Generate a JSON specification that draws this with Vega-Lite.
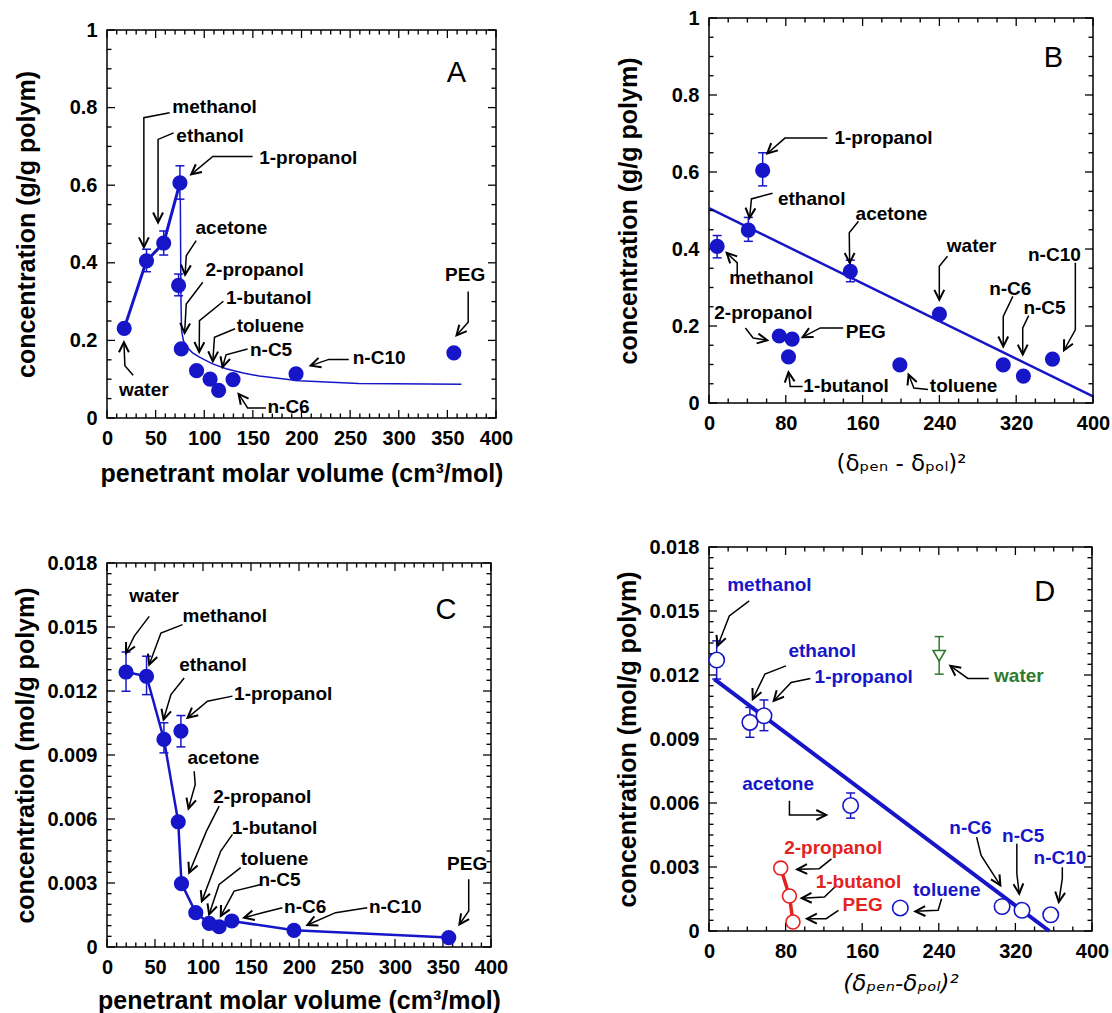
{
  "background": "white",
  "padding": {"left": 13, "top": 7, "right": 2, "bottom": 2},
  "config": {
    "view": {"stroke": "black", "strokeWidth": 1.5},
    "font": "Liberation Sans",
    "axis": {"grid": false, "domain": false, "ticks": false, "labelColor": "black", "labelFont": "Liberation Sans", "labelFontSize": 20, "labelFontWeight": "bold", "titleFont": "Liberation Sans", "titleFontSize": 25, "titleFontWeight": "bold", "titleColor": "black", "labelPadding": 10, "labelFlush": false, "labelOverlap": false}
  },
  "datasets": {
    "tx10a": [
      {"v": 0, "kind": "major", "e0": 0, "e1": 1}, {"v": 10, "kind": "minor", "e0": 0, "e1": 1}, {"v": 20, "kind": "minor", "e0": 0, "e1": 1}, {"v": 30, "kind": "minor", "e0": 0, "e1": 1}, {"v": 40, "kind": "minor", "e0": 0, "e1": 1},
      {"v": 50, "kind": "major", "e0": 0, "e1": 1}, {"v": 60, "kind": "minor", "e0": 0, "e1": 1}, {"v": 70, "kind": "minor", "e0": 0, "e1": 1}, {"v": 80, "kind": "minor", "e0": 0, "e1": 1}, {"v": 90, "kind": "minor", "e0": 0, "e1": 1},
      {"v": 100, "kind": "major", "e0": 0, "e1": 1}, {"v": 110, "kind": "minor", "e0": 0, "e1": 1}, {"v": 120, "kind": "minor", "e0": 0, "e1": 1}, {"v": 130, "kind": "minor", "e0": 0, "e1": 1}, {"v": 140, "kind": "minor", "e0": 0, "e1": 1},
      {"v": 150, "kind": "major", "e0": 0, "e1": 1}, {"v": 160, "kind": "minor", "e0": 0, "e1": 1}, {"v": 170, "kind": "minor", "e0": 0, "e1": 1}, {"v": 180, "kind": "minor", "e0": 0, "e1": 1}, {"v": 190, "kind": "minor", "e0": 0, "e1": 1},
      {"v": 200, "kind": "major", "e0": 0, "e1": 1}, {"v": 210, "kind": "minor", "e0": 0, "e1": 1}, {"v": 220, "kind": "minor", "e0": 0, "e1": 1}, {"v": 230, "kind": "minor", "e0": 0, "e1": 1}, {"v": 240, "kind": "minor", "e0": 0, "e1": 1},
      {"v": 250, "kind": "major", "e0": 0, "e1": 1}, {"v": 260, "kind": "minor", "e0": 0, "e1": 1}, {"v": 270, "kind": "minor", "e0": 0, "e1": 1}, {"v": 280, "kind": "minor", "e0": 0, "e1": 1}, {"v": 290, "kind": "minor", "e0": 0, "e1": 1},
      {"v": 300, "kind": "major", "e0": 0, "e1": 1}, {"v": 310, "kind": "minor", "e0": 0, "e1": 1}, {"v": 320, "kind": "minor", "e0": 0, "e1": 1}, {"v": 330, "kind": "minor", "e0": 0, "e1": 1}, {"v": 340, "kind": "minor", "e0": 0, "e1": 1},
      {"v": 350, "kind": "major", "e0": 0, "e1": 1}, {"v": 360, "kind": "minor", "e0": 0, "e1": 1}, {"v": 370, "kind": "minor", "e0": 0, "e1": 1}, {"v": 380, "kind": "minor", "e0": 0, "e1": 1}, {"v": 390, "kind": "minor", "e0": 0, "e1": 1},
      {"v": 400, "kind": "major", "e0": 0, "e1": 1}
    ],
    "tx10c": [
      {"v": 0, "kind": "major", "e0": 0, "e1": 0.018}, {"v": 10, "kind": "minor", "e0": 0, "e1": 0.018}, {"v": 20, "kind": "minor", "e0": 0, "e1": 0.018}, {"v": 30, "kind": "minor", "e0": 0, "e1": 0.018}, {"v": 40, "kind": "minor", "e0": 0, "e1": 0.018},
      {"v": 50, "kind": "major", "e0": 0, "e1": 0.018}, {"v": 60, "kind": "minor", "e0": 0, "e1": 0.018}, {"v": 70, "kind": "minor", "e0": 0, "e1": 0.018}, {"v": 80, "kind": "minor", "e0": 0, "e1": 0.018}, {"v": 90, "kind": "minor", "e0": 0, "e1": 0.018},
      {"v": 100, "kind": "major", "e0": 0, "e1": 0.018}, {"v": 110, "kind": "minor", "e0": 0, "e1": 0.018}, {"v": 120, "kind": "minor", "e0": 0, "e1": 0.018}, {"v": 130, "kind": "minor", "e0": 0, "e1": 0.018}, {"v": 140, "kind": "minor", "e0": 0, "e1": 0.018},
      {"v": 150, "kind": "major", "e0": 0, "e1": 0.018}, {"v": 160, "kind": "minor", "e0": 0, "e1": 0.018}, {"v": 170, "kind": "minor", "e0": 0, "e1": 0.018}, {"v": 180, "kind": "minor", "e0": 0, "e1": 0.018}, {"v": 190, "kind": "minor", "e0": 0, "e1": 0.018},
      {"v": 200, "kind": "major", "e0": 0, "e1": 0.018}, {"v": 210, "kind": "minor", "e0": 0, "e1": 0.018}, {"v": 220, "kind": "minor", "e0": 0, "e1": 0.018}, {"v": 230, "kind": "minor", "e0": 0, "e1": 0.018}, {"v": 240, "kind": "minor", "e0": 0, "e1": 0.018},
      {"v": 250, "kind": "major", "e0": 0, "e1": 0.018}, {"v": 260, "kind": "minor", "e0": 0, "e1": 0.018}, {"v": 270, "kind": "minor", "e0": 0, "e1": 0.018}, {"v": 280, "kind": "minor", "e0": 0, "e1": 0.018}, {"v": 290, "kind": "minor", "e0": 0, "e1": 0.018},
      {"v": 300, "kind": "major", "e0": 0, "e1": 0.018}, {"v": 310, "kind": "minor", "e0": 0, "e1": 0.018}, {"v": 320, "kind": "minor", "e0": 0, "e1": 0.018}, {"v": 330, "kind": "minor", "e0": 0, "e1": 0.018}, {"v": 340, "kind": "minor", "e0": 0, "e1": 0.018},
      {"v": 350, "kind": "major", "e0": 0, "e1": 0.018}, {"v": 360, "kind": "minor", "e0": 0, "e1": 0.018}, {"v": 370, "kind": "minor", "e0": 0, "e1": 0.018}, {"v": 380, "kind": "minor", "e0": 0, "e1": 0.018}, {"v": 390, "kind": "minor", "e0": 0, "e1": 0.018},
      {"v": 400, "kind": "major", "e0": 0, "e1": 0.018}
    ],
    "tx20b": [
      {"v": 0, "kind": "major", "e0": 0, "e1": 1}, {"v": 20, "kind": "minor", "e0": 0, "e1": 1}, {"v": 40, "kind": "minor", "e0": 0, "e1": 1}, {"v": 60, "kind": "minor", "e0": 0, "e1": 1},
      {"v": 80, "kind": "major", "e0": 0, "e1": 1}, {"v": 100, "kind": "minor", "e0": 0, "e1": 1}, {"v": 120, "kind": "minor", "e0": 0, "e1": 1}, {"v": 140, "kind": "minor", "e0": 0, "e1": 1},
      {"v": 160, "kind": "major", "e0": 0, "e1": 1}, {"v": 180, "kind": "minor", "e0": 0, "e1": 1}, {"v": 200, "kind": "minor", "e0": 0, "e1": 1}, {"v": 220, "kind": "minor", "e0": 0, "e1": 1},
      {"v": 240, "kind": "major", "e0": 0, "e1": 1}, {"v": 260, "kind": "minor", "e0": 0, "e1": 1}, {"v": 280, "kind": "minor", "e0": 0, "e1": 1}, {"v": 300, "kind": "minor", "e0": 0, "e1": 1},
      {"v": 320, "kind": "major", "e0": 0, "e1": 1}, {"v": 340, "kind": "minor", "e0": 0, "e1": 1}, {"v": 360, "kind": "minor", "e0": 0, "e1": 1}, {"v": 380, "kind": "minor", "e0": 0, "e1": 1},
      {"v": 400, "kind": "major", "e0": 0, "e1": 1}
    ],
    "tx20d": [
      {"v": 0, "kind": "major", "e0": 0, "e1": 0.018}, {"v": 20, "kind": "minor", "e0": 0, "e1": 0.018}, {"v": 40, "kind": "minor", "e0": 0, "e1": 0.018}, {"v": 60, "kind": "minor", "e0": 0, "e1": 0.018},
      {"v": 80, "kind": "major", "e0": 0, "e1": 0.018}, {"v": 100, "kind": "minor", "e0": 0, "e1": 0.018}, {"v": 120, "kind": "minor", "e0": 0, "e1": 0.018}, {"v": 140, "kind": "minor", "e0": 0, "e1": 0.018},
      {"v": 160, "kind": "major", "e0": 0, "e1": 0.018}, {"v": 180, "kind": "minor", "e0": 0, "e1": 0.018}, {"v": 200, "kind": "minor", "e0": 0, "e1": 0.018}, {"v": 220, "kind": "minor", "e0": 0, "e1": 0.018},
      {"v": 240, "kind": "major", "e0": 0, "e1": 0.018}, {"v": 260, "kind": "minor", "e0": 0, "e1": 0.018}, {"v": 280, "kind": "minor", "e0": 0, "e1": 0.018}, {"v": 300, "kind": "minor", "e0": 0, "e1": 0.018},
      {"v": 320, "kind": "major", "e0": 0, "e1": 0.018}, {"v": 340, "kind": "minor", "e0": 0, "e1": 0.018}, {"v": 360, "kind": "minor", "e0": 0, "e1": 0.018}, {"v": 380, "kind": "minor", "e0": 0, "e1": 0.018},
      {"v": 400, "kind": "major", "e0": 0, "e1": 0.018}
    ],
    "ty05": [
      {"v": 0, "kind": "major", "e0": 0, "e1": 400}, {"v": 0.05, "kind": "minor", "e0": 0, "e1": 400}, {"v": 0.1, "kind": "minor", "e0": 0, "e1": 400}, {"v": 0.15, "kind": "minor", "e0": 0, "e1": 400},
      {"v": 0.2, "kind": "major", "e0": 0, "e1": 400}, {"v": 0.25, "kind": "minor", "e0": 0, "e1": 400}, {"v": 0.3, "kind": "minor", "e0": 0, "e1": 400}, {"v": 0.35, "kind": "minor", "e0": 0, "e1": 400},
      {"v": 0.4, "kind": "major", "e0": 0, "e1": 400}, {"v": 0.45, "kind": "minor", "e0": 0, "e1": 400}, {"v": 0.5, "kind": "minor", "e0": 0, "e1": 400}, {"v": 0.55, "kind": "minor", "e0": 0, "e1": 400},
      {"v": 0.6, "kind": "major", "e0": 0, "e1": 400}, {"v": 0.65, "kind": "minor", "e0": 0, "e1": 400}, {"v": 0.7, "kind": "minor", "e0": 0, "e1": 400}, {"v": 0.75, "kind": "minor", "e0": 0, "e1": 400},
      {"v": 0.8, "kind": "major", "e0": 0, "e1": 400}, {"v": 0.85, "kind": "minor", "e0": 0, "e1": 400}, {"v": 0.9, "kind": "minor", "e0": 0, "e1": 400}, {"v": 0.95, "kind": "minor", "e0": 0, "e1": 400},
      {"v": 1, "kind": "major", "e0": 0, "e1": 400}
    ],
    "ty0005": [
      {"v": 0, "kind": "major", "e0": 0, "e1": 400}, {"v": 0.0005, "kind": "minor", "e0": 0, "e1": 400}, {"v": 0.001, "kind": "minor", "e0": 0, "e1": 400}, {"v": 0.0015, "kind": "minor", "e0": 0, "e1": 400}, {"v": 0.002, "kind": "minor", "e0": 0, "e1": 400}, {"v": 0.0025, "kind": "minor", "e0": 0, "e1": 400},
      {"v": 0.003, "kind": "major", "e0": 0, "e1": 400}, {"v": 0.0035, "kind": "minor", "e0": 0, "e1": 400}, {"v": 0.004, "kind": "minor", "e0": 0, "e1": 400}, {"v": 0.0045, "kind": "minor", "e0": 0, "e1": 400}, {"v": 0.005, "kind": "minor", "e0": 0, "e1": 400}, {"v": 0.0055, "kind": "minor", "e0": 0, "e1": 400},
      {"v": 0.006, "kind": "major", "e0": 0, "e1": 400}, {"v": 0.0065, "kind": "minor", "e0": 0, "e1": 400}, {"v": 0.007, "kind": "minor", "e0": 0, "e1": 400}, {"v": 0.0075, "kind": "minor", "e0": 0, "e1": 400}, {"v": 0.008, "kind": "minor", "e0": 0, "e1": 400}, {"v": 0.0085, "kind": "minor", "e0": 0, "e1": 400},
      {"v": 0.009, "kind": "major", "e0": 0, "e1": 400}, {"v": 0.0095, "kind": "minor", "e0": 0, "e1": 400}, {"v": 0.01, "kind": "minor", "e0": 0, "e1": 400}, {"v": 0.0105, "kind": "minor", "e0": 0, "e1": 400}, {"v": 0.011, "kind": "minor", "e0": 0, "e1": 400}, {"v": 0.0115, "kind": "minor", "e0": 0, "e1": 400},
      {"v": 0.012, "kind": "major", "e0": 0, "e1": 400}, {"v": 0.0125, "kind": "minor", "e0": 0, "e1": 400}, {"v": 0.013, "kind": "minor", "e0": 0, "e1": 400}, {"v": 0.0135, "kind": "minor", "e0": 0, "e1": 400}, {"v": 0.014, "kind": "minor", "e0": 0, "e1": 400}, {"v": 0.0145, "kind": "minor", "e0": 0, "e1": 400},
      {"v": 0.015, "kind": "major", "e0": 0, "e1": 400}, {"v": 0.0155, "kind": "minor", "e0": 0, "e1": 400}, {"v": 0.016, "kind": "minor", "e0": 0, "e1": 400}, {"v": 0.0165, "kind": "minor", "e0": 0, "e1": 400}, {"v": 0.017, "kind": "minor", "e0": 0, "e1": 400}, {"v": 0.0175, "kind": "minor", "e0": 0, "e1": 400},
      {"v": 0.018, "kind": "major", "e0": 0, "e1": 400}
    ],
    "A_pts": [
      {"name": "water", "x": 17.7, "y": 0.231},
      {"name": "methanol", "x": 40.6, "y": 0.405, "lo": 0.377, "hi": 0.435},
      {"name": "ethanol", "x": 58.3, "y": 0.451, "lo": 0.42, "hi": 0.482},
      {"name": "1-propanol", "x": 75.0, "y": 0.606, "lo": 0.564, "hi": 0.65},
      {"name": "acetone", "x": 73.6, "y": 0.342, "lo": 0.315, "hi": 0.371},
      {"name": "2-propanol", "x": 76.4, "y": 0.178},
      {"name": "1-butanol", "x": 92.1, "y": 0.122},
      {"name": "toluene", "x": 106.0, "y": 0.100},
      {"name": "n-C5", "x": 114.8, "y": 0.071},
      {"name": "n-C6", "x": 129.6, "y": 0.099},
      {"name": "n-C10", "x": 194.4, "y": 0.114},
      {"name": "PEG", "x": 356.7, "y": 0.168}
    ],
    "A_fit": [
      {"x": 75.4, "y": 0.564}, {"x": 75.8, "y": 0.40}, {"x": 76.1, "y": 0.298}, {"x": 76.7, "y": 0.225},
      {"x": 78.5, "y": 0.200}, {"x": 81.5, "y": 0.185}, {"x": 88.0, "y": 0.168}, {"x": 95.1, "y": 0.157},
      {"x": 108.0, "y": 0.140}, {"x": 122.5, "y": 0.127}, {"x": 140.0, "y": 0.116}, {"x": 156.5, "y": 0.108},
      {"x": 197.4, "y": 0.096}, {"x": 258.8, "y": 0.089}, {"x": 364.5, "y": 0.087}
    ],
    "A_arr": [
      {"id": 1, "seq": 1, "x": 64.4, "y": 0.787}, {"id": 1, "seq": 2, "x": 37.9, "y": 0.774}, {"id": 1, "seq": 3, "x": 37.9, "y": 0.440, "heading": 180},
      {"id": 2, "seq": 1, "x": 68.5, "y": 0.735}, {"id": 2, "seq": 2, "x": 52.5, "y": 0.718}, {"id": 2, "seq": 3, "x": 52.5, "y": 0.504, "heading": 180},
      {"id": 3, "seq": 1, "x": 149.7, "y": 0.674}, {"id": 3, "seq": 2, "x": 108.8, "y": 0.674}, {"id": 3, "seq": 3, "x": 86.6, "y": 0.628, "heading": 231},
      {"id": 4, "seq": 1, "x": 91.7, "y": 0.457}, {"id": 4, "seq": 2, "x": 81.5, "y": 0.418}, {"id": 4, "seq": 3, "x": 80.3, "y": 0.369, "heading": 185},
      {"id": 5, "seq": 1, "x": 98.5, "y": 0.350}, {"id": 5, "seq": 2, "x": 81.5, "y": 0.294}, {"id": 5, "seq": 3, "x": 79.8, "y": 0.219, "heading": 183},
      {"id": 6, "seq": 1, "x": 119.7, "y": 0.301}, {"id": 6, "seq": 2, "x": 95.1, "y": 0.251}, {"id": 6, "seq": 3, "x": 94.8, "y": 0.170, "heading": 181},
      {"id": 7, "seq": 1, "x": 131.7, "y": 0.230}, {"id": 7, "seq": 2, "x": 110.5, "y": 0.208}, {"id": 7, "seq": 3, "x": 108.8, "y": 0.146, "heading": 182},
      {"id": 8, "seq": 1, "x": 144.6, "y": 0.178}, {"id": 8, "seq": 2, "x": 122.4, "y": 0.163}, {"id": 8, "seq": 3, "x": 118.8, "y": 0.131, "heading": 196},
      {"id": 9, "seq": 1, "x": 248.6, "y": 0.151}, {"id": 9, "seq": 2, "x": 228.1, "y": 0.151}, {"id": 9, "seq": 3, "x": 209.4, "y": 0.135, "heading": 252},
      {"id": 10, "seq": 1, "x": 371.4, "y": 0.326}, {"id": 10, "seq": 2, "x": 371.4, "y": 0.247}, {"id": 10, "seq": 3, "x": 359.4, "y": 0.213, "heading": 221},
      {"id": 11, "seq": 1, "x": 26.9, "y": 0.110}, {"id": 11, "seq": 2, "x": 18.4, "y": 0.135}, {"id": 11, "seq": 3, "x": 17.4, "y": 0.195, "heading": 0},
      {"id": 12, "seq": 1, "x": 163.4, "y": 0.026}, {"id": 12, "seq": 2, "x": 144.6, "y": 0.026}, {"id": 12, "seq": 3, "x": 135.3, "y": 0.062, "heading": 322}
    ],
    "A_lab": [
      {"name": "methanol", "x": 67.2, "y": 0.802},
      {"name": "ethanol", "x": 71.3, "y": 0.727},
      {"name": "1-propanol", "x": 156.5, "y": 0.671},
      {"name": "acetone", "x": 91.0, "y": 0.489},
      {"name": "2-propanol", "x": 101.3, "y": 0.381},
      {"name": "1-butanol", "x": 122.4, "y": 0.308},
      {"name": "toluene", "x": 133.3, "y": 0.238},
      {"name": "n-C5", "x": 147.0, "y": 0.174},
      {"name": "n-C10", "x": 252.7, "y": 0.154},
      {"name": "PEG", "x": 347.6, "y": 0.368},
      {"name": "water", "x": 12.3, "y": 0.071},
      {"name": "n-C6", "x": 165.0, "y": 0.028}
    ],
    "B_pts": [
      {"name": "methanol", "x": 8.5, "y": 0.407, "lo": 0.377, "hi": 0.435},
      {"name": "ethanol", "x": 41.0, "y": 0.449, "lo": 0.42, "hi": 0.482},
      {"name": "1-propanol", "x": 55.9, "y": 0.604, "lo": 0.564, "hi": 0.65},
      {"name": "acetone", "x": 147.2, "y": 0.342, "lo": 0.315, "hi": 0.371},
      {"name": "water", "x": 240.0, "y": 0.231},
      {"name": "2-propanol", "x": 73.2, "y": 0.174},
      {"name": "PEG", "x": 86.6, "y": 0.166},
      {"name": "1-butanol", "x": 82.8, "y": 0.120},
      {"name": "toluene", "x": 198.8, "y": 0.099},
      {"name": "n-C6", "x": 306.5, "y": 0.099},
      {"name": "n-C5", "x": 327.5, "y": 0.070},
      {"name": "n-C10", "x": 357.8, "y": 0.114}
    ],
    "B_fit": [{"x": 0, "y": 0.506}, {"x": 400, "y": 0.017}],
    "B_arr": [
      {"id": 1, "seq": 1, "x": 123.3, "y": 0.688}, {"id": 1, "seq": 2, "x": 79.1, "y": 0.688}, {"id": 1, "seq": 3, "x": 60.7, "y": 0.648, "heading": 227},
      {"id": 2, "seq": 1, "x": 66.2, "y": 0.545}, {"id": 2, "seq": 2, "x": 44.2, "y": 0.530}, {"id": 2, "seq": 3, "x": 42.3, "y": 0.481, "heading": 185},
      {"id": 3, "seq": 1, "x": 155.7, "y": 0.472}, {"id": 3, "seq": 2, "x": 146.1, "y": 0.442}, {"id": 3, "seq": 3, "x": 146.5, "y": 0.364, "heading": 180},
      {"id": 4, "seq": 1, "x": 248.4, "y": 0.381}, {"id": 4, "seq": 2, "x": 239.9, "y": 0.355}, {"id": 4, "seq": 3, "x": 239.9, "y": 0.268, "heading": 180},
      {"id": 5, "seq": 1, "x": 29.4, "y": 0.329}, {"id": 5, "seq": 2, "x": 29.4, "y": 0.364}, {"id": 5, "seq": 3, "x": 18.4, "y": 0.390, "heading": 315},
      {"id": 6, "seq": 1, "x": 381.6, "y": 0.364}, {"id": 6, "seq": 2, "x": 381.6, "y": 0.190}, {"id": 6, "seq": 3, "x": 369.8, "y": 0.137, "heading": 207},
      {"id": 7, "seq": 1, "x": 316.5, "y": 0.277}, {"id": 7, "seq": 2, "x": 306.5, "y": 0.225}, {"id": 7, "seq": 3, "x": 306.5, "y": 0.147, "heading": 180},
      {"id": 8, "seq": 1, "x": 333.0, "y": 0.227}, {"id": 8, "seq": 2, "x": 326.8, "y": 0.195}, {"id": 8, "seq": 3, "x": 326.8, "y": 0.126, "heading": 180},
      {"id": 9, "seq": 1, "x": 37.9, "y": 0.195}, {"id": 9, "seq": 2, "x": 46.0, "y": 0.169}, {"id": 9, "seq": 3, "x": 60.7, "y": 0.163, "heading": 100},
      {"id": 10, "seq": 1, "x": 139.8, "y": 0.195}, {"id": 10, "seq": 2, "x": 115.9, "y": 0.195}, {"id": 10, "seq": 3, "x": 97.5, "y": 0.171, "heading": 242},
      {"id": 11, "seq": 1, "x": 97.5, "y": 0.043}, {"id": 11, "seq": 2, "x": 84.6, "y": 0.043}, {"id": 11, "seq": 3, "x": 82.8, "y": 0.080, "heading": 353},
      {"id": 12, "seq": 1, "x": 228.2, "y": 0.035}, {"id": 12, "seq": 2, "x": 213.4, "y": 0.039}, {"id": 12, "seq": 3, "x": 207.9, "y": 0.074, "heading": 339}
    ],
    "B_lab": [
      {"name": "1-propanol", "x": 130.6, "y": 0.688},
      {"name": "ethanol", "x": 71.8, "y": 0.530},
      {"name": "acetone", "x": 152.7, "y": 0.492},
      {"name": "water", "x": 247.7, "y": 0.409},
      {"name": "methanol", "x": 21.0, "y": 0.325},
      {"name": "n-C10", "x": 332.3, "y": 0.385},
      {"name": "n-C6", "x": 291.8, "y": 0.296},
      {"name": "n-C5", "x": 327.5, "y": 0.247},
      {"name": "2-propanol", "x": 5.5, "y": 0.234},
      {"name": "PEG", "x": 142.4, "y": 0.184},
      {"name": "1-butanol", "x": 98.3, "y": 0.043},
      {"name": "toluene", "x": 230.0, "y": 0.043}
    ],
    "C_pts": [
      {"name": "water", "x": 19.8, "y": 0.01289, "lo": 0.01199, "hi": 0.01383},
      {"name": "methanol", "x": 41.2, "y": 0.01269, "lo": 0.01183, "hi": 0.01363},
      {"name": "ethanol", "x": 59.3, "y": 0.00973, "lo": 0.00910, "hi": 0.01051},
      {"name": "1-propanol", "x": 77.0, "y": 0.01012, "lo": 0.00938, "hi": 0.01085},
      {"name": "acetone", "x": 74.2, "y": 0.00587},
      {"name": "2-propanol", "x": 77.6, "y": 0.00297},
      {"name": "1-butanol", "x": 92.5, "y": 0.00161},
      {"name": "toluene", "x": 106.4, "y": 0.00111},
      {"name": "n-C5", "x": 116.8, "y": 0.00095},
      {"name": "n-C6", "x": 130.0, "y": 0.00122},
      {"name": "n-C10", "x": 194.8, "y": 0.00078},
      {"name": "PEG", "x": 356.0, "y": 0.00044}
    ],
    "C_arr": [
      {"id": 1, "seq": 1, "x": 44.0, "y": 0.01550}, {"id": 1, "seq": 2, "x": 28.4, "y": 0.01457}, {"id": 1, "seq": 3, "x": 19.8, "y": 0.01378, "heading": 207},
      {"id": 2, "seq": 1, "x": 78.7, "y": 0.01511}, {"id": 2, "seq": 2, "x": 56.2, "y": 0.01472}, {"id": 2, "seq": 3, "x": 44.0, "y": 0.01324, "heading": 200},
      {"id": 3, "seq": 1, "x": 80.4, "y": 0.01261}, {"id": 3, "seq": 2, "x": 66.6, "y": 0.01183}, {"id": 3, "seq": 3, "x": 58.9, "y": 0.01066, "heading": 196},
      {"id": 4, "seq": 1, "x": 130.7, "y": 0.01176}, {"id": 4, "seq": 2, "x": 104.7, "y": 0.01152}, {"id": 4, "seq": 3, "x": 83.9, "y": 0.01074, "heading": 230},
      {"id": 5, "seq": 1, "x": 90.8, "y": 0.00824}, {"id": 5, "seq": 2, "x": 91.9, "y": 0.00762}, {"id": 5, "seq": 3, "x": 84.9, "y": 0.00649, "heading": 196},
      {"id": 6, "seq": 1, "x": 116.8, "y": 0.00660}, {"id": 6, "seq": 2, "x": 103.6, "y": 0.00543}, {"id": 6, "seq": 3, "x": 85.6, "y": 0.00348, "heading": 203},
      {"id": 7, "seq": 1, "x": 130.7, "y": 0.00528}, {"id": 7, "seq": 2, "x": 118.5, "y": 0.00450}, {"id": 7, "seq": 3, "x": 98.8, "y": 0.00215, "heading": 201},
      {"id": 8, "seq": 1, "x": 139.3, "y": 0.00372}, {"id": 8, "seq": 2, "x": 116.8, "y": 0.00293}, {"id": 8, "seq": 3, "x": 106.4, "y": 0.00153, "heading": 198},
      {"id": 9, "seq": 1, "x": 160.1, "y": 0.00293}, {"id": 9, "seq": 2, "x": 132.4, "y": 0.00262}, {"id": 9, "seq": 3, "x": 118.5, "y": 0.00145, "heading": 208},
      {"id": 10, "seq": 1, "x": 182.7, "y": 0.00184}, {"id": 10, "seq": 2, "x": 161.9, "y": 0.00161}, {"id": 10, "seq": 3, "x": 142.8, "y": 0.00137, "heading": 255},
      {"id": 11, "seq": 1, "x": 271.1, "y": 0.00184}, {"id": 11, "seq": 2, "x": 238.1, "y": 0.00161}, {"id": 11, "seq": 3, "x": 208.7, "y": 0.00103, "heading": 246},
      {"id": 12, "seq": 1, "x": 376.8, "y": 0.00317}, {"id": 12, "seq": 2, "x": 376.8, "y": 0.00169}, {"id": 12, "seq": 3, "x": 367.1, "y": 0.00106, "heading": 215}
    ],
    "C_lab": [
      {"name": "water", "x": 23.2, "y": 0.01644},
      {"name": "methanol", "x": 78.7, "y": 0.01550},
      {"name": "ethanol", "x": 75.2, "y": 0.01324},
      {"name": "1-propanol", "x": 132.4, "y": 0.01186},
      {"name": "acetone", "x": 83.9, "y": 0.00884},
      {"name": "2-propanol", "x": 110.6, "y": 0.00702},
      {"name": "1-butanol", "x": 130.0, "y": 0.00556},
      {"name": "toluene", "x": 139.3, "y": 0.00411},
      {"name": "n-C5", "x": 157.7, "y": 0.00312},
      {"name": "n-C6", "x": 184.4, "y": 0.00187},
      {"name": "n-C10", "x": 272.8, "y": 0.00187},
      {"name": "PEG", "x": 354.2, "y": 0.00387}
    ],
    "D_pts": [
      {"name": "methanol", "x": 8.0, "y": 0.01270, "lo": 0.01181, "hi": 0.01360, "set": "fitted"},
      {"name": "ethanol", "x": 42.7, "y": 0.00978, "lo": 0.00908, "hi": 0.01048, "set": "fitted"},
      {"name": "1-propanol", "x": 57.4, "y": 0.01009, "lo": 0.00939, "hi": 0.01083, "set": "fitted"},
      {"name": "acetone", "x": 147.9, "y": 0.00588, "lo": 0.00529, "hi": 0.00647, "set": "fitted"},
      {"name": "water", "x": 240.4, "y": 0.01290, "lo": 0.01204, "hi": 0.01380, "set": "water"},
      {"name": "2-propanol", "x": 74.9, "y": 0.00295, "set": "branched"},
      {"name": "1-butanol", "x": 84.0, "y": 0.00164, "set": "branched"},
      {"name": "PEG", "x": 87.7, "y": 0.00042, "set": "branched"},
      {"name": "toluene", "x": 199.8, "y": 0.00108, "set": "fitted"},
      {"name": "n-C6", "x": 306.1, "y": 0.00115, "set": "fitted"},
      {"name": "n-C5", "x": 326.9, "y": 0.00097, "set": "fitted"},
      {"name": "n-C10", "x": 356.9, "y": 0.00076, "set": "fitted"}
    ],
    "D_fit": [{"x": 5.5, "y": 0.01181}, {"x": 355.4, "y": 0.0}],
    "D_arr": [
      {"id": 1, "seq": 1, "x": 42.0, "y": 0.01547}, {"id": 1, "seq": 2, "x": 21.2, "y": 0.01477}, {"id": 1, "seq": 3, "x": 9.1, "y": 0.01337, "heading": 200},
      {"id": 2, "seq": 1, "x": 80.4, "y": 0.01243}, {"id": 2, "seq": 2, "x": 58.4, "y": 0.01204}, {"id": 2, "seq": 3, "x": 45.7, "y": 0.01087, "heading": 205},
      {"id": 3, "seq": 1, "x": 105.9, "y": 0.01184}, {"id": 3, "seq": 2, "x": 85.8, "y": 0.01165}, {"id": 3, "seq": 3, "x": 67.6, "y": 0.01079, "heading": 222},
      {"id": 4, "seq": 1, "x": 292.2, "y": 0.01184}, {"id": 4, "seq": 2, "x": 270.3, "y": 0.01184}, {"id": 4, "seq": 3, "x": 252.1, "y": 0.01243, "heading": 307},
      {"id": 5, "seq": 1, "x": 84.0, "y": 0.00611}, {"id": 5, "seq": 2, "x": 84.0, "y": 0.00544}, {"id": 5, "seq": 3, "x": 122.4, "y": 0.00544, "heading": 90},
      {"id": 6, "seq": 1, "x": 127.9, "y": 0.00338}, {"id": 6, "seq": 2, "x": 115.1, "y": 0.00292}, {"id": 6, "seq": 3, "x": 92.1, "y": 0.00289, "heading": 268},
      {"id": 7, "seq": 1, "x": 131.5, "y": 0.00206}, {"id": 7, "seq": 2, "x": 120.5, "y": 0.00159}, {"id": 7, "seq": 3, "x": 96.8, "y": 0.00154, "heading": 268},
      {"id": 8, "seq": 1, "x": 135.2, "y": 0.00097}, {"id": 8, "seq": 2, "x": 122.4, "y": 0.00058}, {"id": 8, "seq": 3, "x": 102.3, "y": 0.00058, "heading": 270},
      {"id": 9, "seq": 1, "x": 242.9, "y": 0.00151}, {"id": 9, "seq": 2, "x": 239.3, "y": 0.00097}, {"id": 9, "seq": 3, "x": 215.5, "y": 0.00092, "heading": 268},
      {"id": 10, "seq": 1, "x": 279.5, "y": 0.00440}, {"id": 10, "seq": 2, "x": 284.2, "y": 0.00354}, {"id": 10, "seq": 3, "x": 304.3, "y": 0.00214, "heading": 149},
      {"id": 11, "seq": 1, "x": 321.5, "y": 0.00409}, {"id": 11, "seq": 2, "x": 321.5, "y": 0.00268}, {"id": 11, "seq": 3, "x": 324.0, "y": 0.00175, "heading": 175},
      {"id": 12, "seq": 1, "x": 369.0, "y": 0.00299}, {"id": 12, "seq": 2, "x": 369.0, "y": 0.00245}, {"id": 12, "seq": 3, "x": 365.3, "y": 0.00136, "heading": 188}
    ],
    "D_lab": [
      {"name": "methanol", "x": 19.0, "y": 0.01621, "set": "fitted"},
      {"name": "ethanol", "x": 82.9, "y": 0.01313, "set": "fitted"},
      {"name": "1-propanol", "x": 110.3, "y": 0.01189, "set": "fitted"},
      {"name": "water", "x": 297.7, "y": 0.01196, "set": "water"},
      {"name": "acetone", "x": 34.7, "y": 0.00689, "set": "fitted"},
      {"name": "2-propanol", "x": 78.5, "y": 0.00388, "set": "branched"},
      {"name": "1-butanol", "x": 111.4, "y": 0.00232, "set": "branched"},
      {"name": "PEG", "x": 139.5, "y": 0.00120, "set": "branched"},
      {"name": "toluene", "x": 213.0, "y": 0.00190, "set": "fitted"},
      {"name": "n-C6", "x": 251.0, "y": 0.00482, "set": "fitted"},
      {"name": "n-C5", "x": 306.1, "y": 0.00445, "set": "fitted"},
      {"name": "n-C10", "x": 339.0, "y": 0.00342, "set": "fitted"}
    ]
  },
  "spacing": 101,
  "hconcat": [
    {
      "spacing": 65,
      "vconcat": [
        {
          "spacing": 0,
          "vconcat": [
            {
              "width": 389, "height": 1,
              "view": {"stroke": null},
              "data": {"values": [{"x": 0}]},
              "mark": {"type": "point", "opacity": 0, "size": 1},
              "encoding": {}
            },
            {
              "width": 389, "height": 388,
              "layer": [
                {
                  "data": {"name": "A_fit"},
                  "mark": {"type": "line", "color": "#1616c8", "strokeWidth": 1.5},
                  "encoding": {
                    "x": {"field": "x", "type": "quantitative", "scale": {"domain": [0, 400], "nice": false},
                      "axis": {"values": [0, 50, 100, 150, 200, 250, 300, 350, 400], "format": "d", "labelFlush": false, "title": "penetrant molar volume (cm³/mol)", "titlePadding": 13}},
                    "y": {"field": "y", "type": "quantitative", "scale": {"domain": [0, 1], "nice": false},
                      "axis": {"values": [0, 0.2, 0.4, 0.6, 0.8, 1], "labelExpr": "format(datum.value, '~g')", "labelFlush": false, "title": "concentration (g/g polym)", "titlePadding": 30}}
                  }
                },
                {"data": {"name": "tx10a"}, "transform": [{"filter": "datum.kind === 'major'"}], "mark": {"type": "point", "shape": "M-0.08,0L-0.08,-1L0.08,-1L0.08,0Z", "size": 256, "filled": true, "color": "black", "strokeWidth": 0, "opacity": 1},
                  "encoding": {"x": {"field": "v", "type": "quantitative"}, "y": {"field": "e0", "type": "quantitative"}}},
                {"data": {"name": "tx10a"}, "transform": [{"filter": "datum.kind === 'minor'"}], "mark": {"type": "point", "shape": "M-0.15,0L-0.15,-1L0.15,-1L0.15,0Z", "size": 81, "filled": true, "color": "black", "strokeWidth": 0, "opacity": 1},
                  "encoding": {"x": {"field": "v", "type": "quantitative"}, "y": {"field": "e0", "type": "quantitative"}}},
                {"data": {"name": "tx10a"}, "transform": [{"filter": "datum.kind === 'major'"}], "mark": {"type": "point", "shape": "M-0.08,0L-0.08,1L0.08,1L0.08,0Z", "size": 256, "filled": true, "color": "black", "strokeWidth": 0, "opacity": 1},
                  "encoding": {"x": {"field": "v", "type": "quantitative"}, "y": {"field": "e1", "type": "quantitative"}}},
                {"data": {"name": "tx10a"}, "transform": [{"filter": "datum.kind === 'minor'"}], "mark": {"type": "point", "shape": "M-0.15,0L-0.15,1L0.15,1L0.15,0Z", "size": 81, "filled": true, "color": "black", "strokeWidth": 0, "opacity": 1},
                  "encoding": {"x": {"field": "v", "type": "quantitative"}, "y": {"field": "e1", "type": "quantitative"}}},
                {"data": {"name": "ty05"}, "transform": [{"filter": "datum.kind === 'major'"}], "mark": {"type": "point", "shape": "M0,-0.08L1,-0.08L1,0.08L0,0.08Z", "size": 256, "filled": true, "color": "black", "strokeWidth": 0, "opacity": 1},
                  "encoding": {"y": {"field": "v", "type": "quantitative"}, "x": {"field": "e0", "type": "quantitative"}}},
                {"data": {"name": "ty05"}, "transform": [{"filter": "datum.kind === 'minor'"}], "mark": {"type": "point", "shape": "M0,-0.15L1,-0.15L1,0.15L0,0.15Z", "size": 81, "filled": true, "color": "black", "strokeWidth": 0, "opacity": 1},
                  "encoding": {"y": {"field": "v", "type": "quantitative"}, "x": {"field": "e0", "type": "quantitative"}}},
                {"data": {"name": "ty05"}, "transform": [{"filter": "datum.kind === 'major'"}], "mark": {"type": "point", "shape": "M0,-0.08L-1,-0.08L-1,0.08L0,0.08Z", "size": 256, "filled": true, "color": "black", "strokeWidth": 0, "opacity": 1},
                  "encoding": {"y": {"field": "v", "type": "quantitative"}, "x": {"field": "e1", "type": "quantitative"}}},
                {"data": {"name": "ty05"}, "transform": [{"filter": "datum.kind === 'minor'"}], "mark": {"type": "point", "shape": "M0,-0.15L-1,-0.15L-1,0.15L0,0.15Z", "size": 81, "filled": true, "color": "black", "strokeWidth": 0, "opacity": 1},
                  "encoding": {"y": {"field": "v", "type": "quantitative"}, "x": {"field": "e1", "type": "quantitative"}}},
                {
                  "data": {"name": "A_pts"},
                  "transform": [{"filter": {"field": "name", "oneOf": ["water", "methanol", "ethanol", "1-propanol"]}}],
                  "mark": {"type": "line", "color": "#1616c8", "strokeWidth": 3},
                  "encoding": {"x": {"field": "x", "type": "quantitative"}, "y": {"field": "y", "type": "quantitative"}}
                },
                {
                  "data": {"name": "A_pts"},
                  "transform": [{"filter": "isValid(datum.lo)"}],
                  "mark": {"type": "rule", "color": "#1616c8", "strokeWidth": 1.5},
                  "encoding": {"x": {"field": "x", "type": "quantitative"}, "y": {"field": "lo", "type": "quantitative"}, "y2": {"field": "hi"}}
                },
                {
                  "data": {"name": "A_pts"},
                  "transform": [{"filter": "isValid(datum.lo)"}],
                  "mark": {"type": "tick", "orient": "horizontal", "size": 9, "thickness": 1.5, "color": "#1616c8", "opacity": 1},
                  "encoding": {"x": {"field": "x", "type": "quantitative"}, "y": {"field": "lo", "type": "quantitative"}}
                },
                {
                  "data": {"name": "A_pts"},
                  "transform": [{"filter": "isValid(datum.hi)"}],
                  "mark": {"type": "tick", "orient": "horizontal", "size": 9, "thickness": 1.5, "color": "#1616c8", "opacity": 1},
                  "encoding": {"x": {"field": "x", "type": "quantitative"}, "y": {"field": "hi", "type": "quantitative"}}
                },
                {
                  "data": {"name": "A_pts"},
                  "mark": {"type": "circle", "color": "#1616c8", "size": 230, "opacity": 1},
                  "encoding": {"x": {"field": "x", "type": "quantitative"}, "y": {"field": "y", "type": "quantitative"}}
                },
                {
                  "data": {"name": "A_arr"},
                  "mark": {"type": "line", "color": "black", "strokeWidth": 1.5},
                  "encoding": {"x": {"field": "x", "type": "quantitative"}, "y": {"field": "y", "type": "quantitative"}, "detail": {"field": "id"}, "order": {"field": "seq"}}
                },
                {
                  "data": {"name": "A_arr"},
                  "transform": [{"filter": "isValid(datum.heading)"}],
                  "mark": {"type": "point", "shape": "M-0.7,1.4L0,0L0.7,1.4", "filled": false, "color": "black", "strokeWidth": 2, "size": 200, "opacity": 1},
                  "encoding": {"x": {"field": "x", "type": "quantitative"}, "y": {"field": "y", "type": "quantitative"}, "angle": {"field": "heading", "type": "quantitative", "scale": {"domain": [0, 360], "range": [0, 360]}}}
                },
                {
                  "data": {"name": "A_lab"},
                  "mark": {"type": "text", "align": "left", "baseline": "middle", "fontSize": 19, "fontWeight": "bold", "font": "Liberation Sans", "color": "black"},
                  "encoding": {"x": {"field": "x", "type": "quantitative"}, "y": {"field": "y", "type": "quantitative"}, "text": {"field": "name"}}
                },
                {
                  "data": {"values": [{"name": "A", "x": 359.4, "y": 0.889}]},
                  "mark": {"type": "text", "align": "center", "baseline": "middle", "fontSize": 29, "font": "Liberation Sans", "color": "black"},
                  "encoding": {"x": {"field": "x", "type": "quantitative"}, "y": {"field": "y", "type": "quantitative"}, "text": {"field": "name"}}
                }
              ]
            }
          ]
        },
        {
          "width": 384, "height": 384,
          "layer": [
            {
              "data": {"name": "C_pts"},
              "transform": [{"filter": "datum.name !== '1-propanol'"}],
              "mark": {"type": "line", "color": "#1616c8", "strokeWidth": 2.5},
              "encoding": {
                "x": {"field": "x", "type": "quantitative", "scale": {"domain": [0, 400], "nice": false},
                  "axis": {"values": [0, 50, 100, 150, 200, 250, 300, 350, 400], "format": "d", "labelFlush": false, "title": "penetrant molar volume (cm³/mol)", "titlePadding": 11}},
                "y": {"field": "y", "type": "quantitative", "scale": {"domain": [0, 0.018], "nice": false},
                  "axis": {"values": [0, 0.003, 0.006, 0.009, 0.012, 0.015, 0.018], "labelExpr": "datum.value === 0 ? '0' : format(datum.value, '.3f')", "labelFlush": false, "title": "concentration (mol/g polym)", "titlePadding": 8}}
              }
            },
            {"data": {"name": "tx10c"}, "transform": [{"filter": "datum.kind === 'major'"}], "mark": {"type": "point", "shape": "M-0.08,0L-0.08,-1L0.08,-1L0.08,0Z", "size": 256, "filled": true, "color": "black", "strokeWidth": 0, "opacity": 1},
              "encoding": {"x": {"field": "v", "type": "quantitative"}, "y": {"field": "e0", "type": "quantitative"}}},
            {"data": {"name": "tx10c"}, "transform": [{"filter": "datum.kind === 'minor'"}], "mark": {"type": "point", "shape": "M-0.15,0L-0.15,-1L0.15,-1L0.15,0Z", "size": 81, "filled": true, "color": "black", "strokeWidth": 0, "opacity": 1},
              "encoding": {"x": {"field": "v", "type": "quantitative"}, "y": {"field": "e0", "type": "quantitative"}}},
            {"data": {"name": "tx10c"}, "transform": [{"filter": "datum.kind === 'major'"}], "mark": {"type": "point", "shape": "M-0.08,0L-0.08,1L0.08,1L0.08,0Z", "size": 256, "filled": true, "color": "black", "strokeWidth": 0, "opacity": 1},
              "encoding": {"x": {"field": "v", "type": "quantitative"}, "y": {"field": "e1", "type": "quantitative"}}},
            {"data": {"name": "tx10c"}, "transform": [{"filter": "datum.kind === 'minor'"}], "mark": {"type": "point", "shape": "M-0.15,0L-0.15,1L0.15,1L0.15,0Z", "size": 81, "filled": true, "color": "black", "strokeWidth": 0, "opacity": 1},
              "encoding": {"x": {"field": "v", "type": "quantitative"}, "y": {"field": "e1", "type": "quantitative"}}},
            {"data": {"name": "ty0005"}, "transform": [{"filter": "datum.kind === 'major'"}], "mark": {"type": "point", "shape": "M0,-0.08L1,-0.08L1,0.08L0,0.08Z", "size": 256, "filled": true, "color": "black", "strokeWidth": 0, "opacity": 1},
              "encoding": {"y": {"field": "v", "type": "quantitative"}, "x": {"field": "e0", "type": "quantitative"}}},
            {"data": {"name": "ty0005"}, "transform": [{"filter": "datum.kind === 'minor'"}], "mark": {"type": "point", "shape": "M0,-0.15L1,-0.15L1,0.15L0,0.15Z", "size": 81, "filled": true, "color": "black", "strokeWidth": 0, "opacity": 1},
              "encoding": {"y": {"field": "v", "type": "quantitative"}, "x": {"field": "e0", "type": "quantitative"}}},
            {"data": {"name": "ty0005"}, "transform": [{"filter": "datum.kind === 'major'"}], "mark": {"type": "point", "shape": "M0,-0.08L-1,-0.08L-1,0.08L0,0.08Z", "size": 256, "filled": true, "color": "black", "strokeWidth": 0, "opacity": 1},
              "encoding": {"y": {"field": "v", "type": "quantitative"}, "x": {"field": "e1", "type": "quantitative"}}},
            {"data": {"name": "ty0005"}, "transform": [{"filter": "datum.kind === 'minor'"}], "mark": {"type": "point", "shape": "M0,-0.15L-1,-0.15L-1,0.15L0,0.15Z", "size": 81, "filled": true, "color": "black", "strokeWidth": 0, "opacity": 1},
              "encoding": {"y": {"field": "v", "type": "quantitative"}, "x": {"field": "e1", "type": "quantitative"}}},
            {
              "data": {"name": "C_pts"},
              "transform": [{"filter": "isValid(datum.lo)"}],
              "mark": {"type": "rule", "color": "#1616c8", "strokeWidth": 1.5},
              "encoding": {"x": {"field": "x", "type": "quantitative"}, "y": {"field": "lo", "type": "quantitative"}, "y2": {"field": "hi"}}
            },
            {
              "data": {"name": "C_pts"},
              "transform": [{"filter": "isValid(datum.lo)"}],
              "mark": {"type": "tick", "orient": "horizontal", "size": 9, "thickness": 1.5, "color": "#1616c8", "opacity": 1},
              "encoding": {"x": {"field": "x", "type": "quantitative"}, "y": {"field": "lo", "type": "quantitative"}}
            },
            {
              "data": {"name": "C_pts"},
              "transform": [{"filter": "isValid(datum.hi)"}],
              "mark": {"type": "tick", "orient": "horizontal", "size": 9, "thickness": 1.5, "color": "#1616c8", "opacity": 1},
              "encoding": {"x": {"field": "x", "type": "quantitative"}, "y": {"field": "hi", "type": "quantitative"}}
            },
            {
              "data": {"name": "C_pts"},
              "mark": {"type": "circle", "color": "#1616c8", "size": 230, "opacity": 1},
              "encoding": {"x": {"field": "x", "type": "quantitative"}, "y": {"field": "y", "type": "quantitative"}}
            },
            {
              "data": {"name": "C_arr"},
              "mark": {"type": "line", "color": "black", "strokeWidth": 1.5},
              "encoding": {"x": {"field": "x", "type": "quantitative"}, "y": {"field": "y", "type": "quantitative"}, "detail": {"field": "id"}, "order": {"field": "seq"}}
            },
            {
              "data": {"name": "C_arr"},
              "transform": [{"filter": "isValid(datum.heading)"}],
              "mark": {"type": "point", "shape": "M-0.7,1.4L0,0L0.7,1.4", "filled": false, "color": "black", "strokeWidth": 2, "size": 200, "opacity": 1},
              "encoding": {"x": {"field": "x", "type": "quantitative"}, "y": {"field": "y", "type": "quantitative"}, "angle": {"field": "heading", "type": "quantitative", "scale": {"domain": [0, 360], "range": [0, 360]}}}
            },
            {
              "data": {"name": "C_lab"},
              "mark": {"type": "text", "align": "left", "baseline": "middle", "fontSize": 19, "fontWeight": "bold", "font": "Liberation Sans", "color": "black"},
              "encoding": {"x": {"field": "x", "type": "quantitative"}, "y": {"field": "y", "type": "quantitative"}, "text": {"field": "name"}}
            },
            {
              "data": {"values": [{"name": "C", "x": 353.2, "y": 0.01581}]},
              "mark": {"type": "text", "align": "center", "baseline": "middle", "fontSize": 29, "font": "Liberation Sans", "color": "black"},
              "encoding": {"x": {"field": "x", "type": "quantitative"}, "y": {"field": "y", "type": "quantitative"}, "text": {"field": "name"}}
            }
          ]
        }
      ]
    },
    {
      "spacing": 60,
      "vconcat": [
        {
          "width": 384, "height": 385,
          "layer": [
            {
              "data": {"name": "B_fit"},
              "mark": {"type": "line", "color": "#1616c8", "strokeWidth": 2.5},
              "encoding": {
                "x": {"field": "x", "type": "quantitative", "scale": {"domain": [0, 400], "nice": false},
                  "axis": {"values": [0, 80, 160, 240, 320, 400], "format": "d", "labelFlush": false, "title": "(δₚₑₙ - δₚₒₗ)²", "titleFontWeight": "normal", "titleFont": "DejaVu Sans", "titleFontSize": 23, "titlePadding": 19}},
                "y": {"field": "y", "type": "quantitative", "scale": {"domain": [0, 1], "nice": false},
                  "axis": {"values": [0, 0.2, 0.4, 0.6, 0.8, 1], "labelExpr": "format(datum.value, '~g')", "labelFlush": false, "title": "concentration (g/g polym)", "titlePadding": 30}}
              }
            },
            {"data": {"name": "tx20b"}, "transform": [{"filter": "datum.kind === 'major'"}], "mark": {"type": "point", "shape": "M-0.08,0L-0.08,-1L0.08,-1L0.08,0Z", "size": 256, "filled": true, "color": "black", "strokeWidth": 0, "opacity": 1},
              "encoding": {"x": {"field": "v", "type": "quantitative"}, "y": {"field": "e0", "type": "quantitative"}}},
            {"data": {"name": "tx20b"}, "transform": [{"filter": "datum.kind === 'minor'"}], "mark": {"type": "point", "shape": "M-0.15,0L-0.15,-1L0.15,-1L0.15,0Z", "size": 81, "filled": true, "color": "black", "strokeWidth": 0, "opacity": 1},
              "encoding": {"x": {"field": "v", "type": "quantitative"}, "y": {"field": "e0", "type": "quantitative"}}},
            {"data": {"name": "tx20b"}, "transform": [{"filter": "datum.kind === 'major'"}], "mark": {"type": "point", "shape": "M-0.08,0L-0.08,1L0.08,1L0.08,0Z", "size": 256, "filled": true, "color": "black", "strokeWidth": 0, "opacity": 1},
              "encoding": {"x": {"field": "v", "type": "quantitative"}, "y": {"field": "e1", "type": "quantitative"}}},
            {"data": {"name": "tx20b"}, "transform": [{"filter": "datum.kind === 'minor'"}], "mark": {"type": "point", "shape": "M-0.15,0L-0.15,1L0.15,1L0.15,0Z", "size": 81, "filled": true, "color": "black", "strokeWidth": 0, "opacity": 1},
              "encoding": {"x": {"field": "v", "type": "quantitative"}, "y": {"field": "e1", "type": "quantitative"}}},
            {"data": {"name": "ty05"}, "transform": [{"filter": "datum.kind === 'major'"}], "mark": {"type": "point", "shape": "M0,-0.08L1,-0.08L1,0.08L0,0.08Z", "size": 256, "filled": true, "color": "black", "strokeWidth": 0, "opacity": 1},
              "encoding": {"y": {"field": "v", "type": "quantitative"}, "x": {"field": "e0", "type": "quantitative"}}},
            {"data": {"name": "ty05"}, "transform": [{"filter": "datum.kind === 'minor'"}], "mark": {"type": "point", "shape": "M0,-0.15L1,-0.15L1,0.15L0,0.15Z", "size": 81, "filled": true, "color": "black", "strokeWidth": 0, "opacity": 1},
              "encoding": {"y": {"field": "v", "type": "quantitative"}, "x": {"field": "e0", "type": "quantitative"}}},
            {"data": {"name": "ty05"}, "transform": [{"filter": "datum.kind === 'major'"}], "mark": {"type": "point", "shape": "M0,-0.08L-1,-0.08L-1,0.08L0,0.08Z", "size": 256, "filled": true, "color": "black", "strokeWidth": 0, "opacity": 1},
              "encoding": {"y": {"field": "v", "type": "quantitative"}, "x": {"field": "e1", "type": "quantitative"}}},
            {"data": {"name": "ty05"}, "transform": [{"filter": "datum.kind === 'minor'"}], "mark": {"type": "point", "shape": "M0,-0.15L-1,-0.15L-1,0.15L0,0.15Z", "size": 81, "filled": true, "color": "black", "strokeWidth": 0, "opacity": 1},
              "encoding": {"y": {"field": "v", "type": "quantitative"}, "x": {"field": "e1", "type": "quantitative"}}},
            {
              "data": {"name": "B_pts"},
              "transform": [{"filter": "isValid(datum.lo)"}],
              "mark": {"type": "rule", "color": "#1616c8", "strokeWidth": 1.5},
              "encoding": {"x": {"field": "x", "type": "quantitative"}, "y": {"field": "lo", "type": "quantitative"}, "y2": {"field": "hi"}}
            },
            {
              "data": {"name": "B_pts"},
              "transform": [{"filter": "isValid(datum.lo)"}],
              "mark": {"type": "tick", "orient": "horizontal", "size": 9, "thickness": 1.5, "color": "#1616c8", "opacity": 1},
              "encoding": {"x": {"field": "x", "type": "quantitative"}, "y": {"field": "lo", "type": "quantitative"}}
            },
            {
              "data": {"name": "B_pts"},
              "transform": [{"filter": "isValid(datum.hi)"}],
              "mark": {"type": "tick", "orient": "horizontal", "size": 9, "thickness": 1.5, "color": "#1616c8", "opacity": 1},
              "encoding": {"x": {"field": "x", "type": "quantitative"}, "y": {"field": "hi", "type": "quantitative"}}
            },
            {
              "data": {"name": "B_pts"},
              "mark": {"type": "circle", "color": "#1616c8", "size": 230, "opacity": 1},
              "encoding": {"x": {"field": "x", "type": "quantitative"}, "y": {"field": "y", "type": "quantitative"}}
            },
            {
              "data": {"name": "B_arr"},
              "mark": {"type": "line", "color": "black", "strokeWidth": 1.5},
              "encoding": {"x": {"field": "x", "type": "quantitative"}, "y": {"field": "y", "type": "quantitative"}, "detail": {"field": "id"}, "order": {"field": "seq"}}
            },
            {
              "data": {"name": "B_arr"},
              "transform": [{"filter": "isValid(datum.heading)"}],
              "mark": {"type": "point", "shape": "M-0.7,1.4L0,0L0.7,1.4", "filled": false, "color": "black", "strokeWidth": 2, "size": 200, "opacity": 1},
              "encoding": {"x": {"field": "x", "type": "quantitative"}, "y": {"field": "y", "type": "quantitative"}, "angle": {"field": "heading", "type": "quantitative", "scale": {"domain": [0, 360], "range": [0, 360]}}}
            },
            {
              "data": {"name": "B_lab"},
              "mark": {"type": "text", "align": "left", "baseline": "middle", "fontSize": 19, "fontWeight": "bold", "font": "Liberation Sans", "color": "black"},
              "encoding": {"x": {"field": "x", "type": "quantitative"}, "y": {"field": "y", "type": "quantitative"}, "text": {"field": "name"}}
            },
            {
              "data": {"values": [{"name": "B", "x": 358.8, "y": 0.896}]},
              "mark": {"type": "text", "align": "center", "baseline": "middle", "fontSize": 29, "font": "Liberation Sans", "color": "black"},
              "encoding": {"x": {"field": "x", "type": "quantitative"}, "y": {"field": "y", "type": "quantitative"}, "text": {"field": "name"}}
            }
          ]
        },
        {
          "width": 383, "height": 384,
          "layer": [
            {
              "data": {"name": "D_fit"},
              "mark": {"type": "line", "color": "#1616c8", "strokeWidth": 4},
              "encoding": {
                "x": {"field": "x", "type": "quantitative", "scale": {"domain": [0, 400], "nice": false},
                  "axis": {"values": [0, 80, 160, 240, 320, 400], "format": "d", "labelFlush": false, "title": "(δₚₑₙ-δₚₒₗ)²", "titleFontWeight": "normal", "titleFontStyle": "italic", "titleFont": "DejaVu Sans", "titleFontSize": 23, "titlePadding": 11}},
                "y": {"field": "y", "type": "quantitative", "scale": {"domain": [0, 0.018], "nice": false},
                  "axis": {"values": [0, 0.003, 0.006, 0.009, 0.012, 0.015, 0.018], "labelExpr": "datum.value === 0 ? '0' : format(datum.value, '.3f')", "labelFlush": false, "title": "concentration (mol/g polym)", "titlePadding": 8}}
              }
            },
            {"data": {"name": "tx20d"}, "transform": [{"filter": "datum.kind === 'major'"}], "mark": {"type": "point", "shape": "M-0.08,0L-0.08,-1L0.08,-1L0.08,0Z", "size": 256, "filled": true, "color": "black", "strokeWidth": 0, "opacity": 1},
              "encoding": {"x": {"field": "v", "type": "quantitative"}, "y": {"field": "e0", "type": "quantitative"}}},
            {"data": {"name": "tx20d"}, "transform": [{"filter": "datum.kind === 'minor'"}], "mark": {"type": "point", "shape": "M-0.15,0L-0.15,-1L0.15,-1L0.15,0Z", "size": 81, "filled": true, "color": "black", "strokeWidth": 0, "opacity": 1},
              "encoding": {"x": {"field": "v", "type": "quantitative"}, "y": {"field": "e0", "type": "quantitative"}}},
            {"data": {"name": "tx20d"}, "transform": [{"filter": "datum.kind === 'major'"}], "mark": {"type": "point", "shape": "M-0.08,0L-0.08,1L0.08,1L0.08,0Z", "size": 256, "filled": true, "color": "black", "strokeWidth": 0, "opacity": 1},
              "encoding": {"x": {"field": "v", "type": "quantitative"}, "y": {"field": "e1", "type": "quantitative"}}},
            {"data": {"name": "tx20d"}, "transform": [{"filter": "datum.kind === 'minor'"}], "mark": {"type": "point", "shape": "M-0.15,0L-0.15,1L0.15,1L0.15,0Z", "size": 81, "filled": true, "color": "black", "strokeWidth": 0, "opacity": 1},
              "encoding": {"x": {"field": "v", "type": "quantitative"}, "y": {"field": "e1", "type": "quantitative"}}},
            {"data": {"name": "ty0005"}, "transform": [{"filter": "datum.kind === 'major'"}], "mark": {"type": "point", "shape": "M0,-0.08L1,-0.08L1,0.08L0,0.08Z", "size": 256, "filled": true, "color": "black", "strokeWidth": 0, "opacity": 1},
              "encoding": {"y": {"field": "v", "type": "quantitative"}, "x": {"field": "e0", "type": "quantitative"}}},
            {"data": {"name": "ty0005"}, "transform": [{"filter": "datum.kind === 'minor'"}], "mark": {"type": "point", "shape": "M0,-0.15L1,-0.15L1,0.15L0,0.15Z", "size": 81, "filled": true, "color": "black", "strokeWidth": 0, "opacity": 1},
              "encoding": {"y": {"field": "v", "type": "quantitative"}, "x": {"field": "e0", "type": "quantitative"}}},
            {"data": {"name": "ty0005"}, "transform": [{"filter": "datum.kind === 'major'"}], "mark": {"type": "point", "shape": "M0,-0.08L-1,-0.08L-1,0.08L0,0.08Z", "size": 256, "filled": true, "color": "black", "strokeWidth": 0, "opacity": 1},
              "encoding": {"y": {"field": "v", "type": "quantitative"}, "x": {"field": "e1", "type": "quantitative"}}},
            {"data": {"name": "ty0005"}, "transform": [{"filter": "datum.kind === 'minor'"}], "mark": {"type": "point", "shape": "M0,-0.15L-1,-0.15L-1,0.15L0,0.15Z", "size": 81, "filled": true, "color": "black", "strokeWidth": 0, "opacity": 1},
              "encoding": {"y": {"field": "v", "type": "quantitative"}, "x": {"field": "e1", "type": "quantitative"}}},
            {
              "data": {"name": "D_pts"},
              "transform": [{"filter": {"field": "set", "equal": "branched"}}],
              "mark": {"type": "line", "color": "#e4231f", "strokeWidth": 3.5},
              "encoding": {"x": {"field": "x", "type": "quantitative"}, "y": {"field": "y", "type": "quantitative"}}
            },
            {
              "data": {"name": "D_pts"},
              "transform": [{"filter": "isValid(datum.lo)"}],
              "mark": {"type": "rule", "strokeWidth": 1.5},
              "encoding": {"x": {"field": "x", "type": "quantitative"}, "y": {"field": "lo", "type": "quantitative"}, "y2": {"field": "hi"},
                "color": {"field": "set", "type": "nominal", "scale": {"domain": ["fitted", "branched", "water"], "range": ["#1616c8", "#e4231f", "#2f7a2f"]}, "legend": null}}
            },
            {
              "data": {"name": "D_pts"},
              "transform": [{"filter": "isValid(datum.lo)"}],
              "mark": {"type": "tick", "orient": "horizontal", "size": 9, "thickness": 1.5, "opacity": 1},
              "encoding": {"x": {"field": "x", "type": "quantitative"}, "y": {"field": "lo", "type": "quantitative"},
                "color": {"field": "set", "type": "nominal", "scale": {"domain": ["fitted", "branched", "water"], "range": ["#1616c8", "#e4231f", "#2f7a2f"]}, "legend": null}}
            },
            {
              "data": {"name": "D_pts"},
              "transform": [{"filter": "isValid(datum.hi)"}],
              "mark": {"type": "tick", "orient": "horizontal", "size": 9, "thickness": 1.5, "opacity": 1},
              "encoding": {"x": {"field": "x", "type": "quantitative"}, "y": {"field": "hi", "type": "quantitative"},
                "color": {"field": "set", "type": "nominal", "scale": {"domain": ["fitted", "branched", "water"], "range": ["#1616c8", "#e4231f", "#2f7a2f"]}, "legend": null}}
            },
            {
              "data": {"name": "D_pts"},
              "mark": {"type": "point", "filled": false, "fill": "white", "fillOpacity": 1, "strokeWidth": 1.6, "opacity": 1},
              "encoding": {"x": {"field": "x", "type": "quantitative"}, "y": {"field": "y", "type": "quantitative"},
                "color": {"field": "set", "type": "nominal", "scale": {"domain": ["fitted", "branched", "water"], "range": ["#1616c8", "#e4231f", "#2f7a2f"]}, "legend": null},
                "shape": {"field": "set", "type": "nominal", "scale": {"domain": ["fitted", "branched", "water"], "range": ["circle", "circle", "triangle-down"]}, "legend": null},
                "size": {"field": "set", "type": "ordinal", "scale": {"domain": ["fitted", "branched", "water"], "range": [240, 150, 380]}, "legend": null}}
            },
            {
              "data": {"name": "D_arr"},
              "mark": {"type": "line", "color": "black", "strokeWidth": 1.5},
              "encoding": {"x": {"field": "x", "type": "quantitative"}, "y": {"field": "y", "type": "quantitative"}, "detail": {"field": "id"}, "order": {"field": "seq"}}
            },
            {
              "data": {"name": "D_arr"},
              "transform": [{"filter": "isValid(datum.heading)"}],
              "mark": {"type": "point", "shape": "M-0.7,1.4L0,0L0.7,1.4", "filled": false, "color": "black", "strokeWidth": 2, "size": 200, "opacity": 1},
              "encoding": {"x": {"field": "x", "type": "quantitative"}, "y": {"field": "y", "type": "quantitative"}, "angle": {"field": "heading", "type": "quantitative", "scale": {"domain": [0, 360], "range": [0, 360]}}}
            },
            {
              "data": {"name": "D_lab"},
              "mark": {"type": "text", "align": "left", "baseline": "middle", "fontSize": 19, "fontWeight": "bold", "font": "Liberation Sans"},
              "encoding": {"x": {"field": "x", "type": "quantitative"}, "y": {"field": "y", "type": "quantitative"}, "text": {"field": "name"},
                "color": {"field": "set", "type": "nominal", "scale": {"domain": ["fitted", "branched", "water"], "range": ["#1616c8", "#e4231f", "#2f7a2f"]}, "legend": null}}
            },
            {
              "data": {"values": [{"name": "D", "x": 350.7, "y": 0.01589}]},
              "mark": {"type": "text", "align": "center", "baseline": "middle", "fontSize": 29, "font": "Liberation Sans", "color": "black"},
              "encoding": {"x": {"field": "x", "type": "quantitative"}, "y": {"field": "y", "type": "quantitative"}, "text": {"field": "name"}}
            }
          ]
        }
      ]
    }
  ]
}
